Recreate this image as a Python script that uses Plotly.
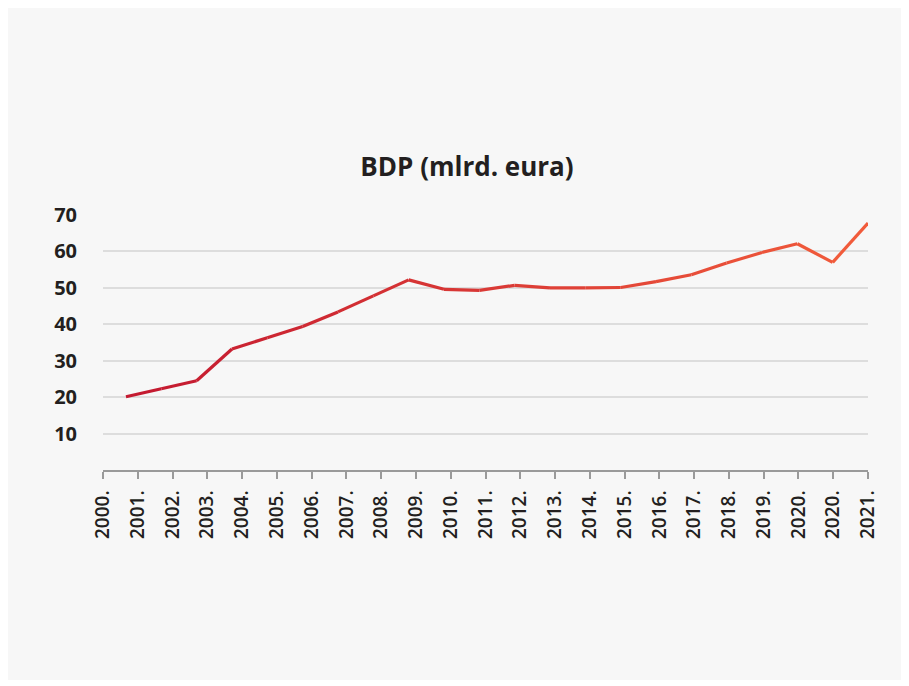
import numpy as np
import plotly.graph_objects as go

# ---- data ----
years = [2000, 2001, 2002, 2003, 2004, 2005, 2006, 2007, 2008, 2009, 2010,
         2011, 2012, 2013, 2014, 2015, 2016, 2017, 2018, 2019, 2020, 2021]
gdp = [20.1, 22.3, 24.5, 33.2, 36.3, 39.4, 43.4, 47.8, 52.2, 49.6, 49.3,
       50.7, 50.0, 50.0, 50.1, 51.7, 53.6, 56.8, 59.7, 62.1, 57.0, 67.8]
tick_labels = ["2000.", "2001.", "2002.", "2003.", "2004.", "2005.", "2006.",
               "2007.", "2008.", "2009.", "2010.", "2011.", "2012.", "2013.",
               "2014.", "2015.", "2016.", "2017.", "2018.", "2019.", "2020.",
               "2020.", "2021."]
y_ticks = [10, 20, 30, 40, 50, 60, 70]
title = "BDP (mlrd. eura)"

# ---- style ----
W, H = 893, 672
L, R, T, B = 95, 33, 207, 210
XMIN, XMAX = 1999.35, 2021
c_start = np.array([0xC4, 0x1A, 0x30])
c_end = np.array([0xF1, 0x5B, 0x3B])
font_family = "Open Sans, Lato, Noto Sans, sans-serif"

fig = go.Figure()
n = len(years)
for i in range(n - 1):
    t = i / (n - 2)
    c = (c_start + (c_end - c_start) * t).round().astype(int)
    fig.add_trace(go.Scatter(
        x=years[i:i + 2], y=gdp[i:i + 2], mode="lines",
        line=dict(color=f"rgb({c[0]},{c[1]},{c[2]})", width=3.2),
        showlegend=False, hoverinfo="skip"))

tickvals = list(np.linspace(XMIN, XMAX, len(tick_labels)))

fig.update_layout(
    width=W, height=H,
    margin=dict(l=L, r=R, t=T, b=B),
    paper_bgcolor="#f7f7f7", plot_bgcolor="#f7f7f7",
    title=dict(text=f"<b>{title}</b>", x=459 / W, xref="container",
               xanchor="center", y=1 - 159 / H, yref="container",
               yanchor="middle",
               font=dict(family=font_family, size=26, color="#231f20")),
    xaxis=dict(range=[XMIN, XMAX], tickmode="array", tickvals=tickvals,
               ticktext=tick_labels, tickangle=-90, showgrid=False,
               zeroline=False, showline=True, linecolor="#9a9a9a",
               linewidth=1.5, ticks="outside", ticklen=7, tickwidth=1.5,
               tickcolor="#9a9a9a", ticklabelstandoff=4,
               tickfont=dict(family=font_family, size=19, color="#231f20",
                             weight=600)),
    yaxis=dict(range=[0, 70], tickmode="array", tickvals=y_ticks,
               showgrid=True, gridcolor="#dddddd", gridwidth=1.5,
               zeroline=False, showline=False, ticks="",
               ticklabelstandoff=25,
               tickfont=dict(family=font_family, size=20, color="#231f20",
                             weight="bold")),
)

fig.write_html("out.html")
